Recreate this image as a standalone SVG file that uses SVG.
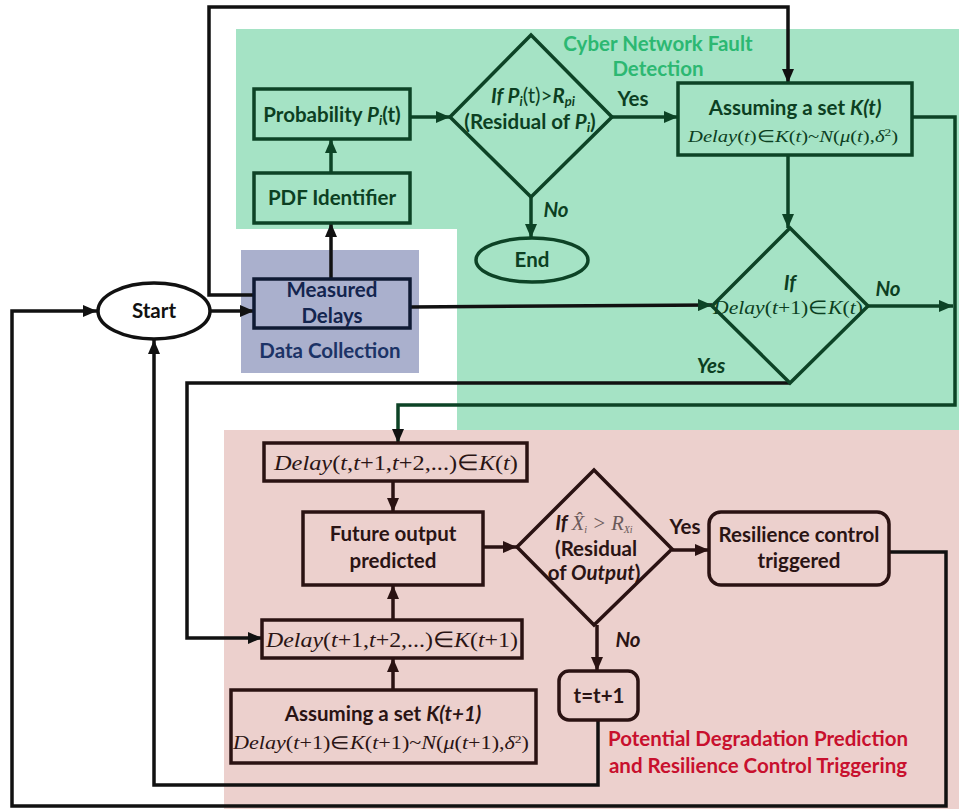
<svg xmlns="http://www.w3.org/2000/svg" width="959" height="809" viewBox="0 0 959 809">
  <style>
    .t { font-family: Lato, "Open Sans", "Liberation Sans", sans-serif; font-weight: bold; text-anchor: middle; font-size: 20.5px; }
    .g { fill: #0c3f22; }
    .n { fill: #14254f; }
    .b { fill: #2a1414; }
    .k { fill: #111; }
    .m { font-family: "Liberation Serif", "Times New Roman", serif; text-anchor: middle; }
    .i { font-style: italic; }
    .boxG { fill: none; stroke: #0d4326; stroke-width: 3.5; }
    .boxN { fill: none; stroke: #0f1a33; stroke-width: 3.5; }
    .boxB { fill: none; stroke: #2a1212; stroke-width: 3.5; }
    .lk { fill: none; stroke: #111; stroke-width: 3.5; }
    .lg { fill: none; stroke: #0d4326; stroke-width: 3.5; }
    .lb { fill: none; stroke: #2a1212; stroke-width: 3.5; }
  </style>
  <defs>
    <marker id="ak" viewBox="0 0 14 12" refX="14" refY="6" markerWidth="14" markerHeight="12" orient="auto" markerUnits="userSpaceOnUse">
      <path d="M0,0 L14,6 L0,12 z" fill="#111"/>
    </marker>
    <marker id="ag" viewBox="0 0 14 12" refX="14" refY="6" markerWidth="14" markerHeight="12" orient="auto" markerUnits="userSpaceOnUse">
      <path d="M0,0 L14,6 L0,12 z" fill="#0d4326"/>
    </marker>
    <marker id="ab" viewBox="0 0 14 12" refX="14" refY="6" markerWidth="14" markerHeight="12" orient="auto" markerUnits="userSpaceOnUse">
      <path d="M0,0 L14,6 L0,12 z" fill="#2a1212"/>
    </marker>
  </defs>

  <rect width="959" height="809" fill="#fff"/>

  <!-- region backgrounds -->
  <g id="regions">
    <path d="M236,29 H959 V430 H457 V229 H236 Z" fill="#a5e3c5"/>
    <rect x="224" y="430" width="735" height="379" fill="#ecd0cd"/>
    <rect x="241" y="250" width="178" height="123" fill="#aab0cd"/>
  </g>

  <!-- region titles -->
  <g id="titles">
    <text class="t" x="658" y="51" fill="#2cb872">Cyber Network Fault</text>
    <text class="t" x="658" y="76" fill="#2cb872">Detection</text>
    <text class="t" x="330" y="358" fill="#1c3366">Data Collection</text>
    <text class="t" x="758" y="746" fill="#c8102e">Potential Degradation Prediction</text>
    <text class="t" x="758" y="773" fill="#c8102e">and Resilience Control Triggering</text>
  </g>

  <!-- connectors -->
  <g id="connectors">
    <!-- start -> measured delays -->
    <path class="lk" d="M210,311 H254" marker-end="url(#ak)"/>
    <!-- measured delays -> PDF identifier -> probability -->
    <path class="lk" d="M331,279 V223" marker-end="url(#ak)"/>
    <path class="lg" d="M331,173 V139" marker-end="url(#ag)"/>
    <!-- probability -> decision 1 -->
    <path class="lg" d="M410,117 H450" marker-end="url(#ag)"/>
    <!-- decision 1 yes -> K(t) -->
    <path class="lg" d="M612,117 H678" marker-end="url(#ag)"/>
    <!-- decision 1 no -> end -->
    <path class="lg" d="M531,197 V238" marker-end="url(#ag)"/>
    <!-- measured delays -> K(t) (top loop) -->
    <path class="lk" d="M254,295 H209 V7 H788 V83" marker-end="url(#ak)"/>
    <!-- K(t) -> decision 2 -->
    <path class="lg" d="M788,155 V228" marker-end="url(#ag)"/>
    <!-- measured delays -> decision 2 -->
    <path class="lk" d="M410,307 L712,305" marker-end="url(#ag)"/>
    <!-- decision 2 no -> right rail -->
    <path class="lg" d="M868,306 H953" marker-end="url(#ag)"/>
    <!-- K(t) right -> rail -> Delay(t,t+1,...) -->
    <path class="lg" d="M912,117 H955 V405 H398 V443" marker-end="url(#ak)"/>
    <!-- decision 2 yes -> Delay(t+1,...) -->
    <path class="lk" d="M790,383 H187 V638 H262" marker-end="url(#ak)"/>
    <!-- pink area flow -->
    <path class="lb" d="M393,481 V512" marker-end="url(#ab)"/>
    <path class="lb" d="M483,547 H517" marker-end="url(#ab)"/>
    <path class="lb" d="M672,550 H709" marker-end="url(#ab)"/>
    <path class="lb" d="M597,625 V671" marker-end="url(#ab)"/>
    <path class="lb" d="M393,620 V585" marker-end="url(#ab)"/>
    <path class="lb" d="M393,690 V658" marker-end="url(#ab)"/>
    <!-- t=t+1 -> start -->
    <path class="lk" d="M598,720 V785 H154 V340" marker-end="url(#ak)"/>
    <!-- resilience control -> start -->
    <path class="lk" d="M889,552 H946 V806 H12 V311 H97" marker-end="url(#ak)"/>
  </g>

  <!-- labels on connectors -->
  <g id="edge-labels">
    <text class="t g" x="633" y="106" font-size="20">Yes</text>
    <text class="t g i" x="556" y="217" font-size="20">No</text>
    <text class="t g i" x="888" y="296" font-size="20">No</text>
    <text class="t g i" x="711" y="373" font-size="20">Yes</text>
    <text class="t b" x="685" y="534" font-size="20">Yes</text>
    <text class="t b i" x="628" y="647" font-size="20">No</text>
  </g>

  <!-- nodes -->
  <g id="start">
    <ellipse cx="154" cy="311" rx="56" ry="28" fill="#fff" stroke="#111" stroke-width="3.5"/>
    <text class="t k" x="154" y="318">Start</text>
  </g>

  <g id="measured-delays">
    <rect class="boxN" x="254" y="279" width="156" height="49"/>
    <text class="t n" x="332" y="297">Measured</text>
    <text class="t n" x="332" y="323">Delays</text>
  </g>

  <g id="pdf-identifier">
    <rect class="boxG" x="254" y="173" width="156" height="50"/>
    <text class="t g" x="332" y="205">PDF Identifier</text>
  </g>

  <g id="probability">
    <rect class="boxG" x="254" y="89" width="156" height="50"/>
    <text class="t g" x="332" y="122" font-size="18.5">Probability <tspan class="i">P<tspan font-size="13" dy="3">i</tspan></tspan><tspan dy="-3">(t)</tspan></text>
  </g>

  <g id="decision-probability">
    <polygon class="boxG" points="531,35 612,117 531,197 450,117"/>
    <text class="t g" x="533" y="103" font-size="18.5"><tspan class="i">If P<tspan font-size="13" dy="3">i</tspan></tspan><tspan dy="-3" font-weight="normal">(t)&gt;</tspan><tspan class="i">R<tspan font-size="13" dy="3">pi</tspan></tspan></text>
    <text class="t g" x="530" y="129" font-size="21"><tspan>(Residual of </tspan><tspan class="i">P<tspan font-size="14" dy="3">i</tspan></tspan><tspan dy="-3">)</tspan></text>
  </g>

  <g id="end">
    <ellipse cx="532" cy="260" rx="56" ry="22" fill="none" stroke="#0d4326" stroke-width="3.5"/>
    <text class="t g" x="532" y="267">End</text>
  </g>

  <g id="set-kt">
    <rect class="boxG" x="678" y="83" width="234" height="72"/>
    <text class="t g" x="795" y="115" font-size="21">Assuming a set <tspan class="i">K(t)</tspan></text>
    <text class="m g" x="793" y="142" font-size="17" textLength="210" lengthAdjust="spacingAndGlyphs"><tspan class="i">Delay</tspan>(<tspan class="i">t</tspan>)∈<tspan class="i">K</tspan>(<tspan class="i">t</tspan>)~<tspan class="i">N</tspan>(<tspan class="i">μ</tspan>(<tspan class="i">t</tspan>),<tspan class="i">δ</tspan><tspan font-size="11" dy="-6">2</tspan><tspan dy="6">)</tspan></text>
  </g>

  <g id="decision-delay">
    <polygon class="boxG" points="790,228 868,306 790,383 712,306"/>
    <text class="t g i" x="790" y="290">If</text>
    <text class="m g" x="788" y="314" font-size="18.5" textLength="150" lengthAdjust="spacingAndGlyphs"><tspan class="i">Delay</tspan>(<tspan class="i">t</tspan>+1)∈<tspan class="i">K</tspan>(<tspan class="i">t</tspan>)</text>
  </g>

  <g id="delay-future-kt">
    <rect class="boxB" x="264" y="443" width="263" height="38"/>
    <text class="m b" x="396" y="470" font-size="21.5" textLength="244" lengthAdjust="spacingAndGlyphs"><tspan class="i">Delay</tspan>(<tspan class="i">t</tspan>,<tspan class="i">t</tspan>+1,<tspan class="i">t</tspan>+2,...)∈<tspan class="i">K</tspan>(<tspan class="i">t</tspan>)</text>
  </g>

  <g id="future-output">
    <rect class="boxB" x="303" y="512" width="180" height="73"/>
    <text class="t b" x="393" y="541">Future output</text>
    <text class="t b" x="393" y="568">predicted</text>
  </g>

  <g id="decision-output">
    <polygon class="boxB" points="594,470 672,549 594,625 517,547"/>
    <text class="t b" x="594" y="530" font-size="19"><tspan class="i">If </tspan><tspan font-family="Liberation Serif, serif" font-weight="normal" fill="#6a5a5a" font-style="italic">X̂<tspan font-size="10" dy="3">i</tspan><tspan dy="-3"> &gt; R</tspan><tspan font-size="10" dy="3">Xi</tspan></tspan></text>
    <text class="t b" x="596" y="556">(Residual</text>
    <text class="t b" x="594" y="580">of <tspan class="i">Output</tspan>)</text>
  </g>

  <g id="resilience-control">
    <rect class="boxB" x="709" y="512" width="180" height="73" rx="12"/>
    <text class="t b" x="799" y="542">Resilience control</text>
    <text class="t b" x="799" y="568">triggered</text>
  </g>

  <g id="time-step">
    <rect class="boxB" x="559" y="671" width="79" height="49" rx="10"/>
    <text class="t b" x="599" y="703">t=t+1</text>
  </g>

  <g id="delay-future-kt1">
    <rect class="boxB" x="262" y="620" width="260" height="38"/>
    <text class="m b" x="392" y="647" font-size="21.5" textLength="252" lengthAdjust="spacingAndGlyphs"><tspan class="i">Delay</tspan>(<tspan class="i">t</tspan>+1,<tspan class="i">t</tspan>+2,...)∈<tspan class="i">K</tspan>(<tspan class="i">t</tspan>+1)</text>
  </g>

  <g id="set-kt1">
    <rect class="boxB" x="231" y="690" width="305" height="73"/>
    <text class="t b" x="383" y="721" font-size="21">Assuming a set <tspan class="i">K(t+1)</tspan></text>
    <text class="m b" x="381" y="749" font-size="18" textLength="296" lengthAdjust="spacingAndGlyphs"><tspan class="i">Delay</tspan>(<tspan class="i">t</tspan>+1)∈<tspan class="i">K</tspan>(<tspan class="i">t</tspan>+1)~<tspan class="i">N</tspan>(<tspan class="i">μ</tspan>(<tspan class="i">t</tspan>+1),<tspan class="i">δ</tspan><tspan font-size="11" dy="-6">2</tspan><tspan dy="6">)</tspan></text>
  </g>
</svg>
